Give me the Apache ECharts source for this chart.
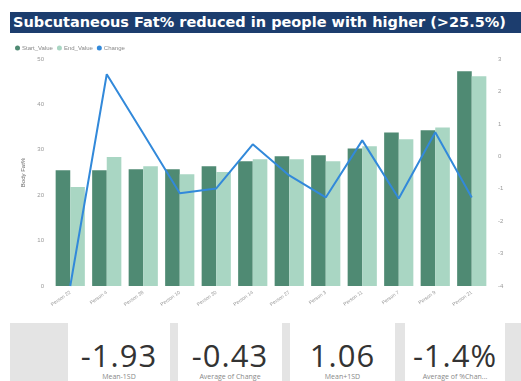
<!DOCTYPE html>
<html>
<head>
<meta charset="utf-8">
<script src="https://cdn.jsdelivr.net/npm/echarts@6/dist/echarts.min.js"></script>
<style>
  html, body { margin: 0; padding: 0; background: #fff; }
  #page { position: relative; width: 521px; height: 381px; overflow: hidden; font-family: "Open Sans", sans-serif; }
  #title {
    position: absolute; left: 10px; top: 12px; width: 511px; height: 21px;
    background: #1c3d6e; color: #fff; font-weight: bold; font-size: 14.5px;
    font-family: "DejaVu Sans", sans-serif;
    line-height: 21px; padding-left: 3px; white-space: nowrap; box-sizing: border-box;
  }
  #chart { position: absolute; left: 10px; top: 36px; width: 511px; height: 287px; }
  #kpi { position: absolute; left: 10px; top: 323px; width: 511px; height: 58px; background: #e4e4e4; }
  .card { position: absolute; top: 0; height: 58px; background: #fff; text-align: center; }
  .card .v { font-size: 31px; color: #333; line-height: 31px; margin-top: 17px; letter-spacing: 1px; }
  .card .l { font-size: 7px; color: #888; margin-top: 1px; }
</style>
</head>
<body>
<div id="page">
  <div id="title">Subcutaneous Fat% reduced in people with higher (&gt;25.5%)</div>
  <div id="chart"></div>
  <div id="kpi"></div>
</div>
<script>
// data
var persons = ["Person 22", "Person 4", "Person 38", "Person 10", "Person 30", "Person 14",
               "Person 27", "Person 3", "Person 11", "Person 7", "Person 9", "Person 21"];
var startValue = [25.5, 25.5, 25.7, 25.7, 26.4, 27.5, 28.6, 28.8, 30.3, 33.8, 34.3, 47.3];
var endValue   = [21.8, 28.4, 26.4, 24.6, 25.1, 27.9, 27.9, 27.5, 30.8, 32.3, 34.9, 46.2];
var change     = [-4.0, 2.53, 0.7, -1.14, -0.99, 0.37, -0.59, -1.27, 0.49, -1.3, 0.74, -1.27];

var kpiValues = ["-1.93", "-0.43", "1.06", "-1.4%"];
var kpiLabels = ["Mean-1SD", "Average of Change", "Mean+1SD", "Average of %Chan..."];

// KPI cards
var cardBoxes = [[58, 102], [168, 104], [280, 105], [395, 100]];
var kpi = document.getElementById("kpi");
kpiValues.forEach(function (v, i) {
  var c = document.createElement("div");
  c.className = "card";
  c.style.left = cardBoxes[i][0] + "px";
  c.style.width = cardBoxes[i][1] + "px";
  c.innerHTML = '<div class="v">' + v + '</div><div class="l">' + kpiLabels[i] + '</div>';
  kpi.appendChild(c);
});

var chart = echarts.init(document.getElementById("chart"));
var axisLbl = { color: "#999", fontSize: 6 };
chart.setOption({
  animation: false,
  color: ["#4f8a73", "#a9d6c3", "#3289da"],
  legend: {
    left: 0, top: 4, itemWidth: 5, itemHeight: 5, itemGap: 4, icon: "circle",
    textStyle: { color: "#888", fontSize: 6, padding: [0, 0, 0, -3] },
    data: ["Start_Value", "End_Value", "Change"]
  },
  grid: { left: 42, right: 31, top: 23, bottom: 37 },
  xAxis: {
    type: "category", data: persons,
    axisLine: { show: false }, axisTick: { show: false },
    axisLabel: { color: "#999", fontSize: 5, rotate: 35, interval: 0, margin: 6 }
  },
  yAxis: [
    {
      type: "value", min: 0, max: 50, interval: 10,
      name: "Body Fat%", nameLocation: "middle", nameGap: 18, nameRotate: 90,
      nameTextStyle: { color: "#666", fontSize: 6 },
      axisLabel: axisLbl, splitLine: { show: false },
      axisLine: { show: false }, axisTick: { show: false }
    },
    {
      type: "value", min: -4, max: 3, interval: 1,
      axisLabel: axisLbl, splitLine: { show: false },
      axisLine: { show: false }, axisTick: { show: false }
    }
  ],
  series: [
    { name: "Start_Value", type: "bar", data: startValue, barGap: "0%", barCategoryGap: "20%" },
    { name: "End_Value", type: "bar", data: endValue },
    {
      name: "Change", type: "line", yAxisIndex: 1, data: change,
      symbol: "none", lineStyle: { width: 2 }
    }
  ]
});
</script>
</body>
</html>
